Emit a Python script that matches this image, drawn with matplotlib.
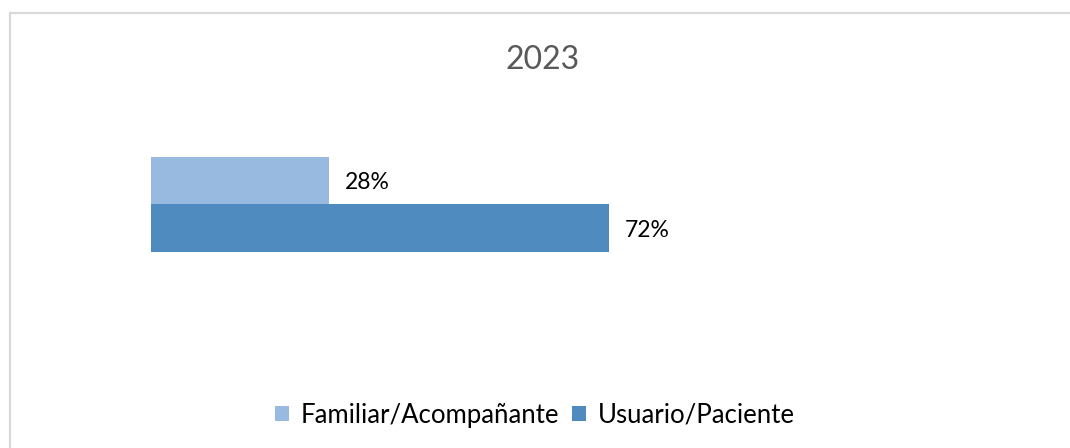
import matplotlib.pyplot as plt
from matplotlib.patches import Rectangle, Patch

plt.rcParams['font.family'] = ['Lato', 'DejaVu Sans']

title = "2023"
series = ["Usuario/Paciente", "Familiar/Acompañante"]
values = [0.72, 0.28]
colors = ["#4F8BBE", "#98B9E0"]

W, H = 1070, 448
fig = plt.figure(figsize=(W / 100, H / 100), dpi=100)

# chart frame (cut off at right and bottom like the original)
fig.patches.append(Rectangle((9.5 / W, -0.1), 1.2, 1 - 13.5 / H + 0.1,
                             transform=fig.transFigure, fill=False,
                             edgecolor="#D9D9D9", linewidth=1.6))

# axes placed in pixel terms: x from 151 to 787, y from 110 to 330
ax = fig.add_axes([151 / W, 1 - 330 / H, (787 - 151) / W, 220 / H])
ypos = [0, 1]
bars = ax.barh(ypos, values, height=1.0, color=colors)
ax.set_xlim(0, 1)
ax.set_ylim(-2.147, 2.484)
ax.axis("off")

for b, v in zip(bars, values):
    ax.annotate(f"{v:.0%}", (b.get_width(), b.get_y() + b.get_height() / 2),
                xytext=(16, -2), textcoords="offset pixels",
                va="center", ha="left", fontsize=16.5, color="#000000")

fig.text(543 / W, 1 - 60 / H, title, ha="center", va="center",
         fontsize=23, color="#595959")

handles = [Patch(facecolor=colors[1], label=series[1]),
           Patch(facecolor=colors[0], label=series[0])]
fig.legend(handles=handles, loc="center", bbox_to_anchor=(535 / W, 1 - 415 / H),
           ncol=2, frameon=False, fontsize=18.5, handlelength=0.55, handleheight=0.55,
           handletextpad=0.45, columnspacing=0.5)

fig.savefig("out.png", dpi=100)
